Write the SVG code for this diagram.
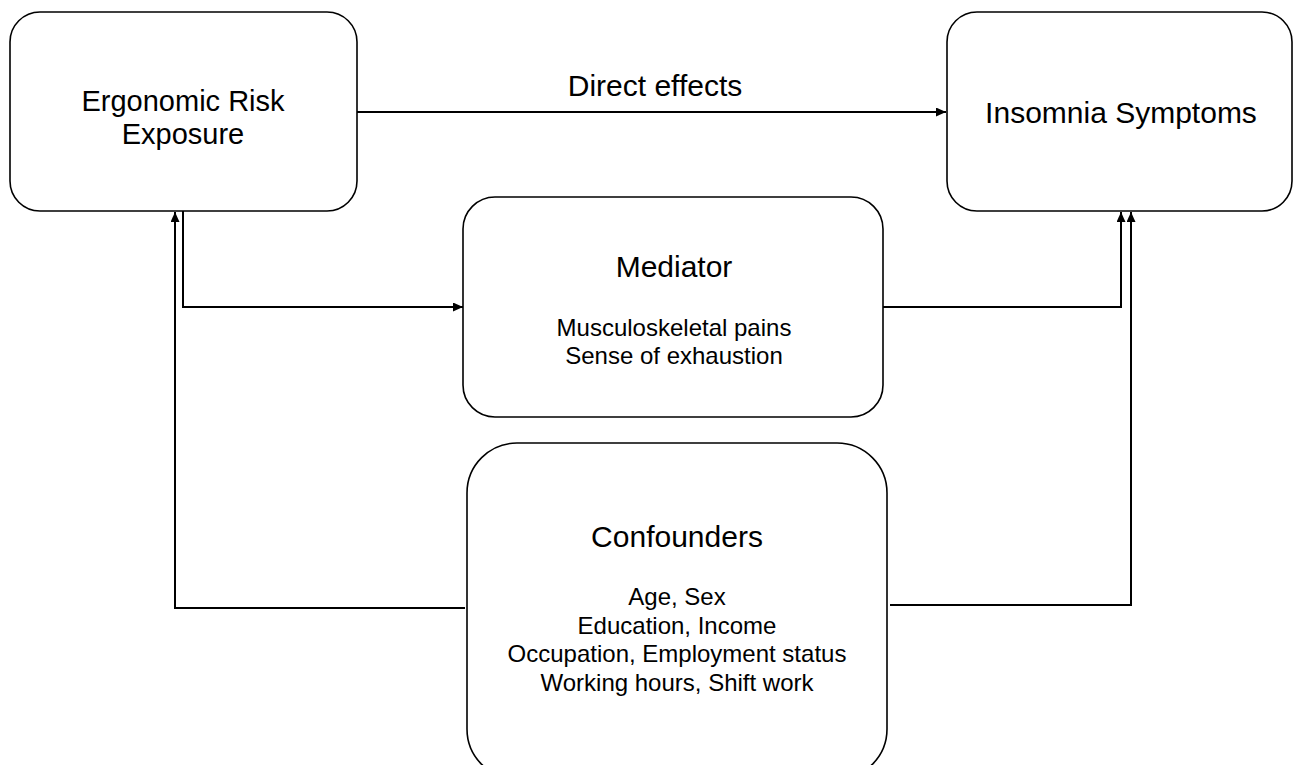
<svg xmlns="http://www.w3.org/2000/svg" width="1295" height="765" viewBox="0 0 1295 765">
<defs>
<style>
.box{fill:#fff;stroke:#000;stroke-width:1.6}
.t{font-family:"Liberation Sans",Arial,sans-serif;fill:#000;text-anchor:middle}
.h{font-size:30px}
.s{font-size:24px}
.c{fill:none;stroke:#000;stroke-width:2}
</style>
<marker id="ah" markerUnits="userSpaceOnUse" markerWidth="10" markerHeight="9" refX="10" refY="4.5" orient="auto">
<path d="M0,0 L10,4.5 L0,9 z" fill="#000"/>
</marker>
</defs>
<rect width="1295" height="765" fill="#fff"/>
<g id="connectors">
<path class="c" d="M357,112 H946" marker-end="url(#ah)"/>
<path class="c" d="M183,211 V307 H463" marker-end="url(#ah)"/>
<path class="c" d="M883,307 H1121 V212" marker-end="url(#ah)"/>
<path class="c" d="M465,608 H175 V212" marker-end="url(#ah)"/>
<path class="c" d="M890,605 H1131 V212" marker-end="url(#ah)"/>
</g>
<g id="ergonomic">
<rect class="box" x="10" y="12" width="347" height="199" rx="30" ry="30"/>
<text class="t" style="font-size:29px" x="183" y="111">Ergonomic Risk</text>
<text class="t" style="font-size:29px" x="183" y="144">Exposure</text>
</g>
<g id="insomnia">
<rect class="box" x="947" y="12" width="345" height="199" rx="30" ry="30"/>
<text class="t h" x="1121" y="123">Insomnia Symptoms</text>
</g>
<g id="direct-label">
<text class="t h" x="655" y="96">Direct effects</text>
</g>
<g id="mediator">
<rect class="box" x="463" y="197" width="420" height="220" rx="32" ry="32"/>
<text class="t h" x="674" y="277">Mediator</text>
<text class="t s" x="674" y="336">Musculoskeletal pains</text>
<text class="t s" x="674" y="364">Sense of exhaustion</text>
</g>
<g id="confounders">
<rect class="box" x="467" y="443" width="420" height="336" rx="50" ry="50"/>
<text class="t h" x="677" y="547">Confounders</text>
<text class="t s" x="677" y="605">Age, Sex</text>
<text class="t s" x="677" y="633.5">Education, Income</text>
<text class="t s" x="677" y="662">Occupation, Employment status</text>
<text class="t s" x="677" y="690.5">Working hours, Shift work</text>
</g>
</svg>
